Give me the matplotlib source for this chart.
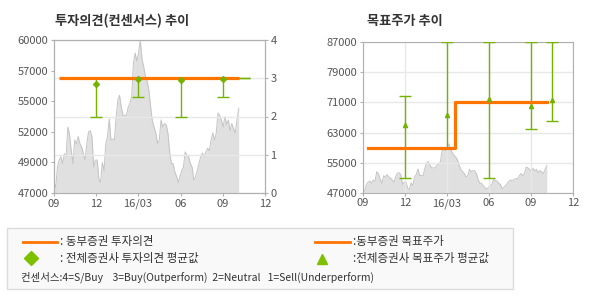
import matplotlib
matplotlib.use("Agg")
import matplotlib.pyplot as plt
from matplotlib.lines import Line2D
from matplotlib.patches import Rectangle
import numpy as np
import pandas as pd

plt.rcParams['font.family'] = ['Noto Sans CJK KR', 'DejaVu Sans']

# ---------------- data ----------------
price_start = '2015-09-01'
price_end = '2016-10-05'
prices = [47900, 47500, 49200, 49800, 50100, 49500, 50350, 50050, 52600, 52000,
          50600, 49500, 51500, 51200, 51800, 51200, 50900, 50350, 49800, 51200,
          52200, 52300, 51800, 49200, 49800, 49800, 48200, 47900, 49600, 48900,
          51200, 51800, 53300, 51500, 51600, 51500, 53500, 54900, 55300, 54300,
          53600, 53600, 53600, 54300, 54600, 55200, 58000, 58900, 58200, 58900,
          60000, 58400, 57700, 56900, 56500, 55700, 54300, 53100, 52600, 52100,
          51200, 51500, 53200, 52600, 52900, 52800, 52100, 50500, 49500, 49500,
          48800, 48400, 47900, 48400, 48900, 49200, 50500, 50200, 50100, 49500,
          49200, 48100, 48400, 48900, 49500, 50100, 50400, 50100, 50500, 50800,
          50600, 51500, 52100, 51500, 52100, 53800, 53600, 53200, 52600, 53500,
          52800, 53200, 52300, 52900, 52500, 52100, 53200, 54200]

# Dongbu opinion (orange)
opinion_dates = ['2015-09-12', '2016-10-05']
opinion_values = [3, 3]

# Dongbu target price (orange, step)
target_dates = ['2015-09-12', '2016-03-19', '2016-10-05']
target_values = [59000, 71000, 71000]

# consensus opinion (green)
cons_dates = ['2015-12-01', '2016-03-01', '2016-06-01', '2016-09-01', '2016-10-16']
cons_op_avg = [2.86, 2.97, 2.95, 2.97, 3.0]
cons_op_min = [2.0, 2.5, 2.0, 2.5, 3.0]
cons_op_max = [3.0, 3.0, 3.0, 3.0, 3.0]

# consensus target price (green)
cons_tp_avg = [65000, 67700, 71800, 70000, 71600]
cons_tp_min = [51000, 59000, 51000, 64000, 66000]
cons_tp_max = [72800, 87000, 87000, 87000, 87000]

xticks = ['2015-09-01', '2015-12-01', '2016-03-01', '2016-06-01', '2016-09-01', '2016-12-01']
xtick_labels = ['09', '12', '16/03', '06', '09', '12']
left_price_ticklabels = ['47000', '49000', '52000', '55000', '57000', '60000']
right_op_ticks = [0, 1, 2, 3, 4]
right_price_ticks = [47000, 55000, 63000, 71000, 79000, 87000]

# ---------------- styles ----------------
ORANGE = '#ff7300'
GREEN = '#74b300'
GRAY_FILL = '#e0e0e0'
GRAY_EDGE = '#c4c4c4'
GRID = '#e8e8e8'
SPINE = '#b0b0b0'
TXT = '#555555'

pdates = pd.date_range(price_start, price_end, periods=len(prices))
xt = pd.to_datetime(xticks)
cd = pd.to_datetime(cons_dates)

fig = plt.figure(figsize=(5.9, 3.0), dpi=100)


def style_axis(ax):
    for s in ax.spines.values():
        s.set_color(SPINE)
        s.set_linewidth(0.8)
    ax.tick_params(colors=SPINE, labelcolor=TXT, labelsize=8, length=2, width=0.8, pad=2)


def setup_x(ax):
    ax.set_xlim(xt[0], xt[-1])
    ax.set_xticks(xt)
    ax.set_xticklabels(xtick_labels)


# ---------------- left chart ----------------
axL = fig.add_axes([54/590, 1-193/300, 211/590, 153/300])
axL.fill_between(pdates, prices, 47000, color=GRAY_FILL, lw=0, zorder=1)
axL.plot(pdates, prices, color=GRAY_EDGE, lw=0.7, zorder=1.5)
axL.set_ylim(47000, 60000)
axL.set_yticks(np.linspace(47000, 60000, len(left_price_ticklabels)))
axL.set_yticklabels(left_price_ticklabels)
setup_x(axL)
style_axis(axL)

axL2 = axL.twinx()
axL2.set_ylim(0, 4)
axL2.set_yticks(right_op_ticks)
axL2.set_yticklabels([str(v) for v in right_op_ticks])
setup_x(axL2)
axL2.grid(True, color=GRID, lw=1.0)
style_axis(axL2)
for gl in axL2.get_ygridlines() + axL2.get_xgridlines():
    gl.set_zorder(1.8)
avg = np.array(cons_op_avg)
mn = np.array(cons_op_min)
mx = np.array(cons_op_max)
axL2.errorbar(cd, avg, yerr=[avg - mn, mx - avg], fmt='none', ecolor=GREEN,
              lw=1.0, capsize=4, capthick=1.0, zorder=3)
has_range = mx > mn
axL2.plot(cd[has_range], avg[has_range], 'D', color=GREEN, ms=3, zorder=5)
axL2.plot(pd.to_datetime(opinion_dates), opinion_values, color=ORANGE, lw=2.3, zorder=4,
          solid_capstyle='butt')

fig.text(55/590, 1-21/300, '투자의견(컨센서스) 추이', fontsize=9.5, fontweight='bold',
         color='#333333', va='center', ha='left')

# ---------------- right chart ----------------
axR = fig.add_axes([363/590, 1-192.7/300, 210/590, 150.4/300])
axR.fill_between(pdates, prices, 47000, color=GRAY_FILL, lw=0, zorder=1)
axR.plot(pdates, prices, color=GRAY_EDGE, lw=0.7, zorder=1.5)
axR.set_ylim(47000, 87000)
axR.set_yticks(right_price_ticks)
axR.set_yticklabels([str(v) for v in right_price_ticks])
setup_x(axR)
style_axis(axR)
axR.grid(True, color=GRID, lw=1.0)
for gl in axR.get_ygridlines() + axR.get_xgridlines():
    gl.set_zorder(1.8)
avg2 = np.array(cons_tp_avg)
axR.errorbar(cd, avg2, yerr=[avg2 - np.array(cons_tp_min), np.array(cons_tp_max) - avg2],
             fmt='none', ecolor=GREEN, lw=1.0, capsize=4, capthick=1.0, zorder=3)
axR.step(pd.to_datetime(target_dates), target_values, where='post', color=ORANGE, lw=2.3,
         zorder=4)
axR.plot(cd, avg2, '^', color=GREEN, ms=3, zorder=5)

fig.text(367/590, 1-21/300, '목표주가 추이', fontsize=9.5, fontweight='bold',
         color='#333333', va='center', ha='left')

# ---------------- legend box ----------------
fig.add_artist(Rectangle((7/590, 1-289/300), 506/590, 61/300, transform=fig.transFigure,
                         facecolor='#f9f9f9', edgecolor='#dcdcdc', lw=1))


def fx(px):
    return px/590


def fy(py):
    return 1 - py/300


LEG_TXT = '#333333'
fs = 8.3
fig.add_artist(Line2D([fx(23), fx(57)], [fy(242), fy(242)], color=ORANGE, lw=2,
                      transform=fig.transFigure))
fig.text(fx(60), fy(242), ': 동부증권 투자의견', fontsize=fs, color=LEG_TXT, va='center')
fig.add_artist(Line2D([fx(315), fx(350)], [fy(242), fy(242)], color=ORANGE, lw=2,
                      transform=fig.transFigure))
fig.text(fx(353), fy(242), ':동부증권 목표주가', fontsize=fs, color=LEG_TXT, va='center')

fig.add_artist(Line2D([fx(31)], [fy(258)], marker='D', color='#7dc000', ms=7.5, lw=0,
                      transform=fig.transFigure))
fig.text(fx(60), fy(258), ': 전체증권사 투자의견 평균값', fontsize=fs, color=LEG_TXT, va='center')
fig.add_artist(Line2D([fx(322)], [fy(259)], marker='^', color='#7dc000', ms=7, lw=0,
                      transform=fig.transFigure))
fig.text(fx(353), fy(258), ':전체증권사 목표주가 평균값', fontsize=fs, color=LEG_TXT, va='center')

fig.text(fx(21), fy(277), '컨센서스:4=S/Buy    3=Buy(Outperform)  2=Neutral   1=Sell(Underperform)',
         fontsize=7.5, color=LEG_TXT, va='center')

fig.savefig('out.png', dpi=100)
